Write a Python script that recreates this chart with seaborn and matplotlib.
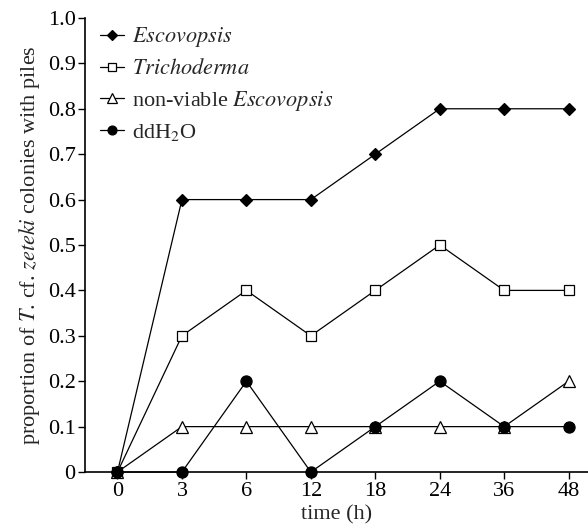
import matplotlib
matplotlib.use("Agg")
import matplotlib.pyplot as plt
import seaborn as sns
import pandas as pd

times = ["0", "3", "6", "12", "18", "24", "36", "48"]
escovopsis = [0, 0.6, 0.6, 0.6, 0.7, 0.8, 0.8, 0.8]
trichoderma = [0, 0.3, 0.4, 0.3, 0.4, 0.5, 0.4, 0.4]
nonviable = [0, 0.1, 0.1, 0.1, 0.1, 0.1, 0.1, 0.2]
ddh2o = [0, 0, 0.2, 0, 0.1, 0.2, 0.1, 0.1]
yticks = [0, 0.1, 0.2, 0.3, 0.4, 0.5, 0.6, 0.7, 0.8, 0.9, 1.0]

sns.set_theme(style="ticks")
plt.rcParams['font.family'] = ['Liberation Serif', 'DejaVu Serif']
plt.rcParams['mathtext.fontset'] = 'stix'

series = [
    (r"$\it{Escovopsis}$", escovopsis, "D", "black", 6.5),
    (r"$\it{Trichoderma}$", trichoderma, "s", "white", 7.5),
    (r"non-viable $\it{Escovopsis}$", nonviable, "^", "white", 8.5),
    (r"ddH$_2$O", ddh2o, "o", "black", 8),
]

FS = 16
fig = plt.figure(figsize=(5.88, 5.28), dpi=100)
ax = fig.add_axes([0.145, 0.106, 0.855, 0.86])
xpos = list(range(len(times)))
for label, vals, m, fc, ms in series:
    df = pd.DataFrame({"x": xpos, "y": vals})
    sns.lineplot(data=df, x="x", y="y", ax=ax, color="black", lw=0.9,
                 marker=m, markerfacecolor=fc, markeredgecolor="black",
                 markeredgewidth=0.9, markersize=ms, label=label,
                 clip_on=False, zorder=3)

ax.set_xlim(-0.5, 7.3)
ax.set_ylim(0, 1.0)
ax.set_xticks(xpos)
ax.set_xticklabels(times)
ax.set_yticks(yticks)
ax.set_yticklabels(["0"] + [f"{v:.1f}" for v in yticks[1:]])
ax.tick_params(labelsize=FS, direction="out", length=5, width=1, colors="black", pad=2)
for s in ["top", "right"]:
    ax.spines[s].set_visible(False)
for s in ["left", "bottom"]:
    ax.spines[s].set_linewidth(1.2)
    ax.spines[s].set_color("black")
ax.set_xlabel("time (h)", fontsize=FS, labelpad=3)
ax.set_ylabel(r"proportion of $\it{T}$. cf. $\it{zeteki}$ colonies with piles", fontsize=FS, labelpad=4)
leg = ax.legend(loc="upper left", bbox_to_anchor=(0.008, 1.008), frameon=False,
                fontsize=FS, handlelength=1.05, handletextpad=0.35, labelspacing=0.42,
                borderaxespad=0.1, markerscale=0.8)
fig.savefig("out.png", dpi=100)
